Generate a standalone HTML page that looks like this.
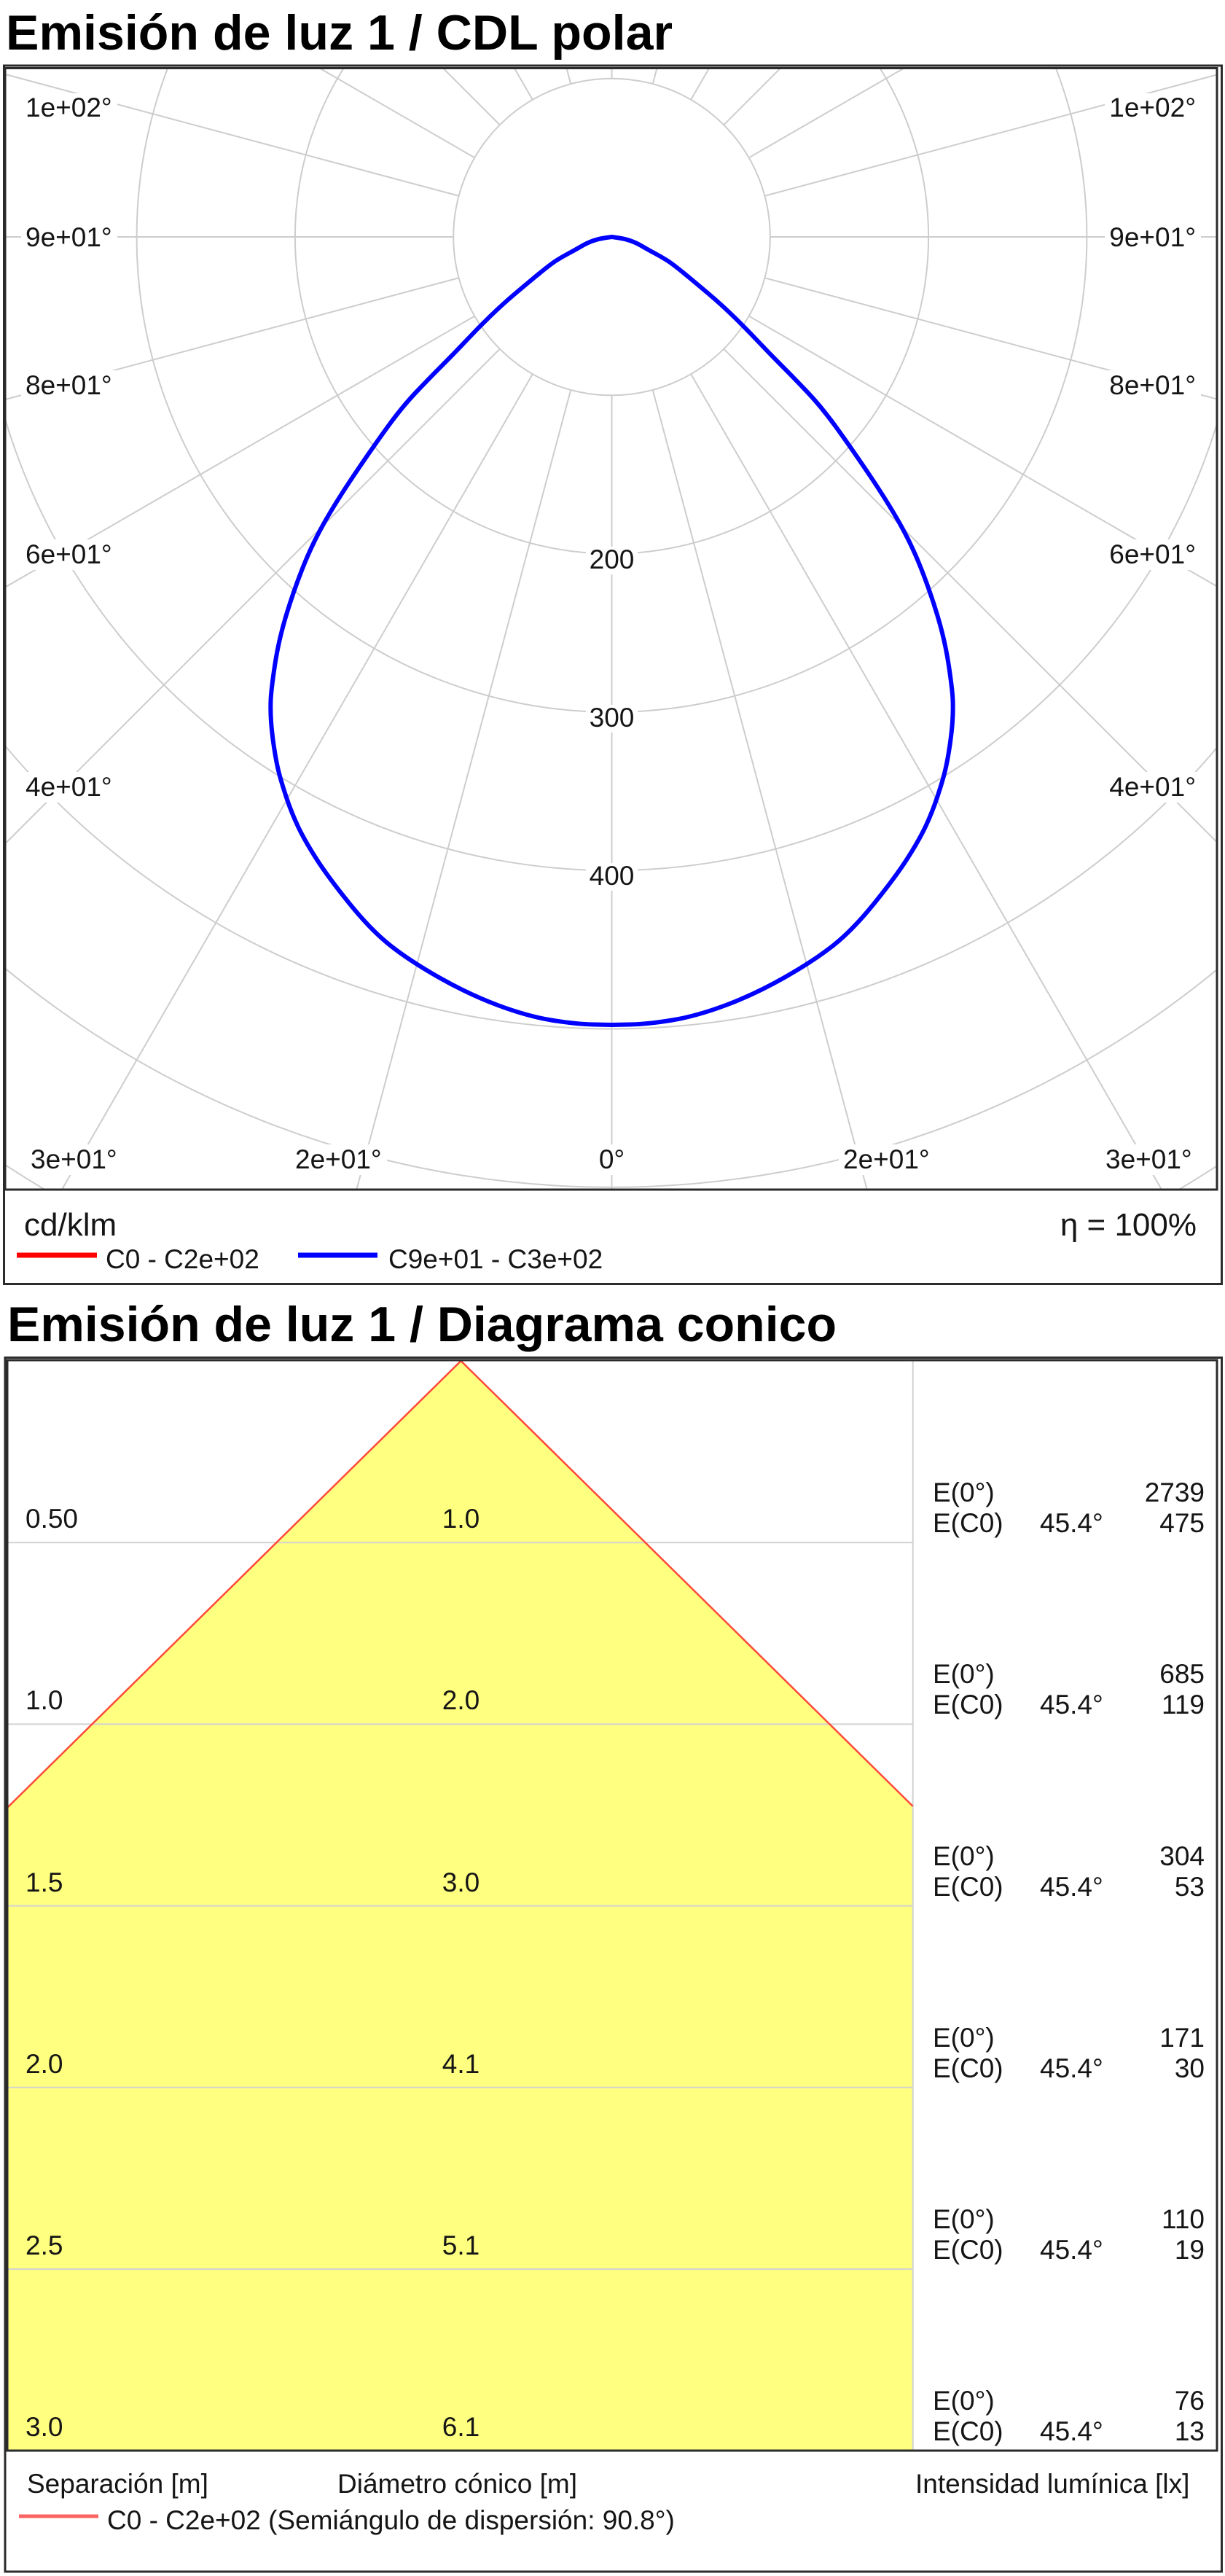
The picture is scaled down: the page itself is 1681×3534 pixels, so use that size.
<!DOCTYPE html>
<html>
<head>
<meta charset="utf-8">
<style>
html,body{margin:0;padding:0;background:#fff;}
svg{display:block;}
text{font-family:"Liberation Sans",Arial,sans-serif;fill:#151515;}
.t{font-weight:bold;font-size:68px;fill:#000;}
.tk{font-size:37px;}
.lg{font-size:44px;}
</style>
</head>
<body>
<svg width="1681" height="3534" viewBox="0 0 1681 3534" xmlns="http://www.w3.org/2000/svg">
<defs>
  <clipPath id="pc"><rect x="8" y="94" width="1661" height="1537"/></clipPath>
</defs>

<!-- ===== Title 1 ===== -->
<text class="t" x="8" y="68" textLength="915" lengthAdjust="spacingAndGlyphs">Emisión de luz 1 / CDL polar</text>

<!-- ===== Polar plot ===== -->
<g clip-path="url(#pc)">
  <g stroke="#cdcdcd" stroke-width="2" fill="none">
    <line x1="839.5" y1="-1700" x2="839.5" y2="2350" transform="rotate(0 839.5 325)"/>
    <line x1="839.5" y1="-1700" x2="839.5" y2="2350" transform="rotate(15 839.5 325)"/>
    <line x1="839.5" y1="-1700" x2="839.5" y2="2350" transform="rotate(30 839.5 325)"/>
    <line x1="839.5" y1="-1700" x2="839.5" y2="2350" transform="rotate(45 839.5 325)"/>
    <line x1="839.5" y1="-1700" x2="839.5" y2="2350" transform="rotate(60 839.5 325)"/>
    <line x1="839.5" y1="-1700" x2="839.5" y2="2350" transform="rotate(75 839.5 325)"/>
    <line x1="839.5" y1="-1700" x2="839.5" y2="2350" transform="rotate(90 839.5 325)"/>
    <line x1="839.5" y1="-1700" x2="839.5" y2="2350" transform="rotate(105 839.5 325)"/>
    <line x1="839.5" y1="-1700" x2="839.5" y2="2350" transform="rotate(120 839.5 325)"/>
    <line x1="839.5" y1="-1700" x2="839.5" y2="2350" transform="rotate(135 839.5 325)"/>
    <line x1="839.5" y1="-1700" x2="839.5" y2="2350" transform="rotate(150 839.5 325)"/>
    <line x1="839.5" y1="-1700" x2="839.5" y2="2350" transform="rotate(165 839.5 325)"/>
    <circle cx="839.5" cy="325" r="434.6"/>
    <circle cx="839.5" cy="325" r="651.9"/>
    <circle cx="839.5" cy="325" r="869.2"/>
    <circle cx="839.5" cy="325" r="1086.5"/>
    <circle cx="839.5" cy="325" r="1303.8"/>
    <circle cx="839.5" cy="325" r="1521.1"/>
  </g>
  <circle cx="839.5" cy="325" r="217.3" fill="#fff" stroke="#cdcdcd" stroke-width="2"/>

  <!-- label backgrounds -->
  <g fill="#fff">
    <rect x="29" y="128" width="132" height="42"/>
    <rect x="29" y="305" width="132" height="42"/>
    <rect x="29" y="508" width="132" height="42"/>
    <rect x="29" y="740" width="132" height="42"/>
    <rect x="29" y="1059" width="132" height="42"/>
    <rect x="36" y="1570" width="132" height="42"/>
    <rect x="399" y="1570" width="132" height="42"/>
    <rect x="815" y="1570" width="49" height="42"/>
    <rect x="1151" y="1570" width="132" height="42"/>
    <rect x="1511" y="1570" width="132" height="42"/>
    <rect x="1516" y="128" width="132" height="42"/>
    <rect x="1516" y="305" width="132" height="42"/>
    <rect x="1516" y="508" width="132" height="42"/>
    <rect x="1516" y="740" width="132" height="42"/>
    <rect x="1516" y="1059" width="132" height="42"/>
    <rect x="804" y="750" width="71" height="38"/>
    <rect x="804" y="967" width="71" height="38"/>
    <rect x="804" y="1184" width="71" height="38"/>
  </g>
</g>

<!-- tick labels -->
<g class="tk">
  <text class="tk" x="35" y="160">1e+02°</text>
  <text class="tk" x="35" y="338">9e+01°</text>
  <text class="tk" x="35" y="541">8e+01°</text>
  <text class="tk" x="35" y="773">6e+01°</text>
  <text class="tk" x="35" y="1092">4e+01°</text>
  <text class="tk" x="42" y="1603">3e+01°</text>
  <text class="tk" x="405" y="1603">2e+01°</text>
  <text class="tk" x="839.5" y="1603" text-anchor="middle">0°</text>
  <text class="tk" x="1157" y="1603">2e+01°</text>
  <text class="tk" x="1517" y="1603">3e+01°</text>
  <text class="tk" x="1641" y="160" text-anchor="end">1e+02°</text>
  <text class="tk" x="1641" y="338" text-anchor="end">9e+01°</text>
  <text class="tk" x="1641" y="541" text-anchor="end">8e+01°</text>
  <text class="tk" x="1641" y="773" text-anchor="end">6e+01°</text>
  <text class="tk" x="1641" y="1092" text-anchor="end">4e+01°</text>
  <text class="tk" x="839.5" y="780" text-anchor="middle">200</text>
  <text class="tk" x="839.5" y="997" text-anchor="middle">300</text>
  <text class="tk" x="839.5" y="1214" text-anchor="middle">400</text>
</g>

<!-- curves -->
<g clip-path="url(#pc)" fill="none" stroke-linejoin="round" stroke-linecap="round">
  <path stroke="#0000ff" stroke-width="6" d="M839.5,325 L830.75,326.25 Q822,327.5 814,330.25 Q806,333 797.5,338 Q789,343 780.5,347.5 Q772,352 764,357 Q756,362 739,376 Q722,390 705.5,404 Q689,418 672.5,434 Q656,450 640,467 Q624,484 607,501 Q590,518 571,538 Q552,558 532,585.5 Q512,613 487,650 Q462,687 445,717 Q428,747 415,780 Q402,813 392,846.5 Q382,880 377,913.5 Q372,947 371.5,961 Q371,975 372,990 Q373,1005 376,1025 Q379,1045 382.5,1059 Q386,1073 393,1094 Q400,1115 409,1134 Q418,1153 434,1178 Q450,1203 479.5,1239.5 Q509,1276 535.5,1297 Q562,1318 602.5,1341 Q643,1364 683,1379 Q723,1394 756.5,1399.5 Q790,1405 814.75,1405.5 L839.5,1406 L864.25,1405.5 Q889,1405 922.5,1399.5 Q956,1394 996,1379 Q1036,1364 1076.5,1341 Q1117,1318 1143.5,1297 Q1170,1276 1199.5,1239.5 Q1229,1203 1245,1178 Q1261,1153 1270,1134 Q1279,1115 1286,1094 Q1293,1073 1296.5,1059 Q1300,1045 1303,1025 Q1306,1005 1307,990 Q1308,975 1307.5,961 Q1307,947 1302,913.5 Q1297,880 1287,846.5 Q1277,813 1264,780 Q1251,747 1234,717 Q1217,687 1192,650 Q1167,613 1147,585.5 Q1127,558 1108,538 Q1089,518 1072,501 Q1055,484 1039,467 Q1023,450 1006.5,434 Q990,418 973.5,404 Q957,390 940,376 Q923,362 915,357 Q907,352 898.5,347.5 Q890,343 881.5,338 Q873,333 865,330.25 Q857,327.5 848.25,326.25 Z"/>
</g>

<!-- polar frames -->
<rect x="5.5" y="90" width="1671" height="1671.5" fill="none" stroke="#2b2b2b" stroke-width="3"/>
<rect x="7" y="93.5" width="1663" height="1538.5" fill="none" stroke="#2b2b2b" stroke-width="3"/>

<!-- polar legend -->
<text class="lg" x="33" y="1695">cd/klm</text>
<text class="lg" x="1642" y="1695" text-anchor="end">η = 100%</text>
<line x1="23" y1="1722" x2="133" y2="1722" stroke="#ff0000" stroke-width="7"/>
<text class="tk" x="145" y="1740">C0 - C2e+02</text>
<line x1="409" y1="1722" x2="518" y2="1722" stroke="#0000ff" stroke-width="7"/>
<text class="tk" x="533" y="1740">C9e+01 - C3e+02</text>

<!-- ===== Title 2 ===== -->
<text class="t" x="10" y="1840" textLength="1138" lengthAdjust="spacingAndGlyphs">Emisión de luz 1 / Diagrama conico</text>

<!-- ===== Conic diagram ===== -->
<polygon points="632.5,1867 10,2480 10,3362 1252.7,3362 1252.7,2478" fill="#ffff80"/>
<g stroke="#d2d2d2" stroke-width="2">
  <line x1="10" y1="2116.2" x2="1252" y2="2116.2"/>
  <line x1="10" y1="2365.4" x2="1252" y2="2365.4"/>
  <line x1="10" y1="2614.6" x2="1252" y2="2614.6"/>
  <line x1="10" y1="2863.8" x2="1252" y2="2863.8"/>
  <line x1="10" y1="3113" x2="1252" y2="3113"/>
  <line x1="1252.7" y1="1866" x2="1252.7" y2="3362"/>
</g>
<polyline points="10,2480 632.5,1867 1252.7,2478" fill="none" stroke="#ff4a3a" stroke-width="2.5"/>

<rect x="7" y="1862.5" width="1669.5" height="1665.5" fill="none" stroke="#2b2b2b" stroke-width="3"/>
<rect x="10" y="1866" width="1660" height="1496" fill="none" stroke="#2b2b2b" stroke-width="3"/>

<g class="tk">
  <text class="tk" x="35" y="2096">0.50</text>
  <text class="tk" x="35" y="2345">1.0</text>
  <text class="tk" x="35" y="2595">1.5</text>
  <text class="tk" x="35" y="2844">2.0</text>
  <text class="tk" x="35" y="3093">2.5</text>
  <text class="tk" x="35" y="3342">3.0</text>

  <text class="tk" x="632.5" y="2096" text-anchor="middle">1.0</text>
  <text class="tk" x="632.5" y="2345" text-anchor="middle">2.0</text>
  <text class="tk" x="632.5" y="2595" text-anchor="middle">3.0</text>
  <text class="tk" x="632.5" y="2844" text-anchor="middle">4.1</text>
  <text class="tk" x="632.5" y="3093" text-anchor="middle">5.1</text>
  <text class="tk" x="632.5" y="3342" text-anchor="middle">6.1</text>

  <text class="tk" x="1280" y="2060">E(0°)</text>
  <text class="tk" x="1280" y="2102">E(C0)</text>
  <text class="tk" x="1427" y="2102">45.4°</text>
  <text class="tk" x="1653" y="2060" text-anchor="end">2739</text>
  <text class="tk" x="1653" y="2102" text-anchor="end">475</text>

  <text class="tk" x="1280" y="2309">E(0°)</text>
  <text class="tk" x="1280" y="2351">E(C0)</text>
  <text class="tk" x="1427" y="2351">45.4°</text>
  <text class="tk" x="1653" y="2309" text-anchor="end">685</text>
  <text class="tk" x="1653" y="2351" text-anchor="end">119</text>

  <text class="tk" x="1280" y="2559">E(0°)</text>
  <text class="tk" x="1280" y="2601">E(C0)</text>
  <text class="tk" x="1427" y="2601">45.4°</text>
  <text class="tk" x="1653" y="2559" text-anchor="end">304</text>
  <text class="tk" x="1653" y="2601" text-anchor="end">53</text>

  <text class="tk" x="1280" y="2808">E(0°)</text>
  <text class="tk" x="1280" y="2850">E(C0)</text>
  <text class="tk" x="1427" y="2850">45.4°</text>
  <text class="tk" x="1653" y="2808" text-anchor="end">171</text>
  <text class="tk" x="1653" y="2850" text-anchor="end">30</text>

  <text class="tk" x="1280" y="3057">E(0°)</text>
  <text class="tk" x="1280" y="3099">E(C0)</text>
  <text class="tk" x="1427" y="3099">45.4°</text>
  <text class="tk" x="1653" y="3057" text-anchor="end">110</text>
  <text class="tk" x="1653" y="3099" text-anchor="end">19</text>

  <text class="tk" x="1280" y="3306">E(0°)</text>
  <text class="tk" x="1280" y="3348">E(C0)</text>
  <text class="tk" x="1427" y="3348">45.4°</text>
  <text class="tk" x="1653" y="3306" text-anchor="end">76</text>
  <text class="tk" x="1653" y="3348" text-anchor="end">13</text>
</g>

<!-- conic legend -->
<text class="tk" x="37" y="3420">Separación [m]</text>
<text class="tk" x="463" y="3420">Diámetro cónico [m]</text>
<text class="tk" x="1256" y="3420">Intensidad lumínica [lx]</text>
<line x1="26" y1="3452" x2="135" y2="3452" stroke="#ff6464" stroke-width="5"/>
<text class="tk" x="147" y="3470">C0 - C2e+02 (Semiángulo de dispersión: 90.8°)</text>
</svg>
</body>
</html>
